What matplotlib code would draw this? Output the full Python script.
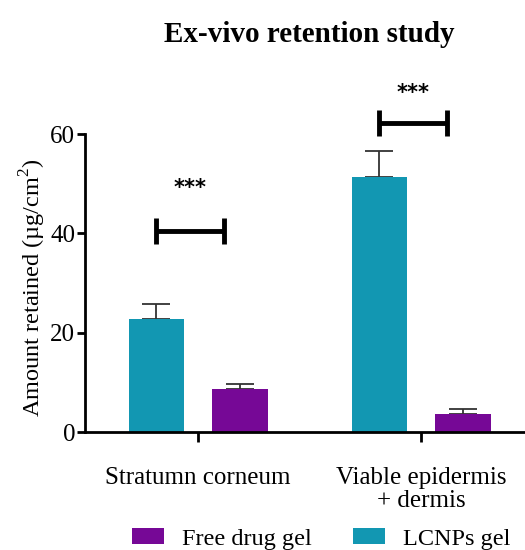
import matplotlib
matplotlib.use("Agg")
import matplotlib.pyplot as plt
from matplotlib.patches import Patch
import numpy as np

plt.rcParams['font.family'] = ['Liberation Serif', 'DejaVu Serif']
plt.rcParams['mathtext.fontset'] = 'custom'
plt.rcParams['mathtext.rm'] = 'Liberation Serif'

categories = ["Stratumn corneum", "Viable epidermis\n+ dermis"]
series_names = ["LCNPs gel", "Free drug gel"]
lcnps_mean = [22.7, 51.3]
lcnps_err = [3.1, 5.2]
free_mean = [8.6, 3.6]
free_err = [1.1, 1.0]
sig_labels = ["***", "***"]
sig_heights = [40.4, 62.2]
star_heights = [49.2, 68.3]
yticks = [0, 20, 40, 60]

teal = "#1297B2"
purple = "#760896"

fig = plt.figure(figsize=(5.25, 5.5), dpi=100)
ax = fig.add_axes([0.162, 0.2145, 0.838, 0.5418])

x = np.arange(len(categories))
w = 0.247
off = 0.188
ax.bar(x - off, lcnps_mean, w, color=teal, zorder=2)
ax.bar(x + off, free_mean, w, color=purple, zorder=2)
ax.errorbar(x - off, lcnps_mean, yerr=[np.zeros(2), lcnps_err], fmt='none',
            ecolor='#333333', elinewidth=1.3, capsize=10, capthick=1.3, zorder=1)
ax.errorbar(x + off, free_mean, yerr=[np.zeros(2), free_err], fmt='none',
            ecolor='#333333', elinewidth=1.3, capsize=10, capthick=1.3, zorder=1)

# significance brackets between the two formulations
for i, (h, sy, lab) in enumerate(zip(sig_heights, star_heights, sig_labels)):
    x0, x1 = x[i] - off + 0.0, x[i] + off - 0.07
    ax.plot([x0, x1], [h, h], color='black', lw=3.5, clip_on=False, solid_capstyle='butt')
    for xx in (x0, x1):
        ax.plot([xx, xx], [h - 2.6, h + 2.6], color='black', lw=3.5, clip_on=False,
                solid_capstyle='butt')
    ax.text((x0 + x1) / 2, sy, lab, ha='center', va='center', fontsize=15,
            family='DejaVu Sans', fontweight='bold', clip_on=False)

ax.set_xlim(-0.507, 1.466)
ax.set_ylim(0, 60)
ax.set_yticks(yticks)
ax.set_xticks(x)
ax.set_xticklabels(categories, fontsize=18, linespacing=1.1)
ax.tick_params(axis='y', labelsize=18, width=2, length=6, pad=1)
ax.tick_params(axis='x', width=2, length=7, pad=18)
for s in ('top', 'right'):
    ax.spines[s].set_visible(False)
for s in ('left', 'bottom'):
    ax.spines[s].set_linewidth(2)

ax.set_ylabel("Amount retained (µg/cm$^2$)", fontsize=17.5)
ax.yaxis.set_label_coords(-0.085, 0.483)
fig.text(0.59, 0.937, "Ex-vivo retention study", ha='center', va='center',
         fontsize=21, fontweight='bold')

handles = [Patch(facecolor=purple), Patch(facecolor=teal)]
fig.legend(handles, ["Free drug gel", "LCNPs gel"], loc='center',
           bbox_to_anchor=(0.612, 0.02), ncol=2, frameon=False, fontsize=17.5,
           handlelength=1.33, handleheight=0.6, handletextpad=0.74, columnspacing=1.7)

fig.savefig("out.png", dpi=100)
